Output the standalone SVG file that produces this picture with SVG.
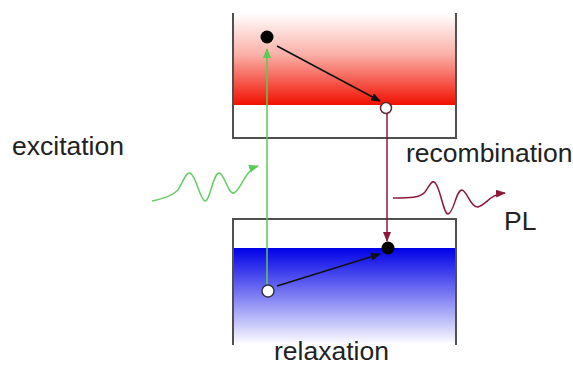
<svg xmlns="http://www.w3.org/2000/svg" width="573" height="367" viewBox="0 0 573 367">
<style>
.lbl{font-family:"Liberation Sans",Arial,sans-serif;font-size:26.5px;fill:#222}
.box{fill:none;stroke:#505050;stroke-width:2}
</style>
<defs>
<linearGradient id="red" x1="0" y1="0" x2="0" y2="1">
<stop offset="0" stop-color="#fff"/>
<stop offset="0.45" stop-color="#fbb0a8"/>
<stop offset="1" stop-color="#f01000"/>
</linearGradient>
<linearGradient id="blue" x1="0" y1="0" x2="0" y2="1">
<stop offset="0" stop-color="#0000e8"/>
<stop offset="1" stop-color="#fff"/>
</linearGradient>
<marker id="ak" markerWidth="10" markerHeight="8" refX="9" refY="4" orient="auto" markerUnits="userSpaceOnUse"><path d="M0,0 L10,4 L0,8 z" fill="#111"/></marker>
<marker id="ag" markerWidth="10" markerHeight="8" refX="9" refY="4" orient="auto" markerUnits="userSpaceOnUse"><path d="M0,0 L10,4 L0,8 z" fill="#5c5"/></marker>
<marker id="am" markerWidth="10" markerHeight="8" refX="9" refY="4" orient="auto" markerUnits="userSpaceOnUse"><path d="M0,0 L10,4 L0,8 z" fill="#8b1a3a"/></marker>
</defs>
<g id="conduction-band">
<rect x="233" y="13" width="223" height="92" fill="url(#red)"/>
<path class="box" d="M233,13 V138 H456 V13"/>
</g>
<g id="valence-band">
<rect x="233" y="248" width="223" height="97" fill="url(#blue)"/>
<path class="box" d="M233,345 V219 H456 V345"/>
</g>
<g id="connectors">
<line x1="267" y1="285" x2="267" y2="49" stroke="#5c5" stroke-width="1.5" marker-end="url(#ag)"/>
<line x1="277" y1="46" x2="380" y2="101" stroke="#111" stroke-width="1.5" marker-end="url(#ak)"/>
<line x1="387" y1="114" x2="387" y2="241" stroke="#8b1a3a" stroke-width="1.5" marker-end="url(#am)"/>
<line x1="277" y1="286" x2="380" y2="254" stroke="#111" stroke-width="1.5" marker-end="url(#ak)"/>
<path d="M152,201 C165,198 172,196 178,190 C184,180 186,172 190,173 C196,175 200,200 205,201 C210,202 213,173 219,173 C225,174 228,195 234,193 C241,190 245,170 258,166" fill="none" stroke="#6c6" stroke-width="1.5" marker-end="url(#ag)"/>
<path d="M393,198 C410,198 420,198 425,192 C430,185 431,181 434,182 C440,184 443,214 448,214 C454,213 456,190 462,190 C467,191 471,208 478,207 C486,205 490,194 505,193" fill="none" stroke="#8b1a3a" stroke-width="1.5" marker-end="url(#am)"/>
</g>
<g id="electron-top"><circle cx="267" cy="37" r="6.5" fill="#000"/></g>
<g id="hole-top"><circle cx="386" cy="108" r="5.5" fill="#fff" stroke="#5a2a30" stroke-width="1.5"/></g>
<g id="electron-bottom"><circle cx="388" cy="248" r="6.5" fill="#000"/></g>
<g id="hole-bottom"><circle cx="268" cy="291" r="6" fill="#fff" stroke="#334" stroke-width="1.5"/></g>
<g id="labels">
<text class="lbl" x="12" y="155">excitation</text>
<text class="lbl" x="406" y="162">recombination</text>
<text class="lbl" x="504" y="230">PL</text>
<text class="lbl" x="274" y="360">relaxation</text>
</g>
</svg>
